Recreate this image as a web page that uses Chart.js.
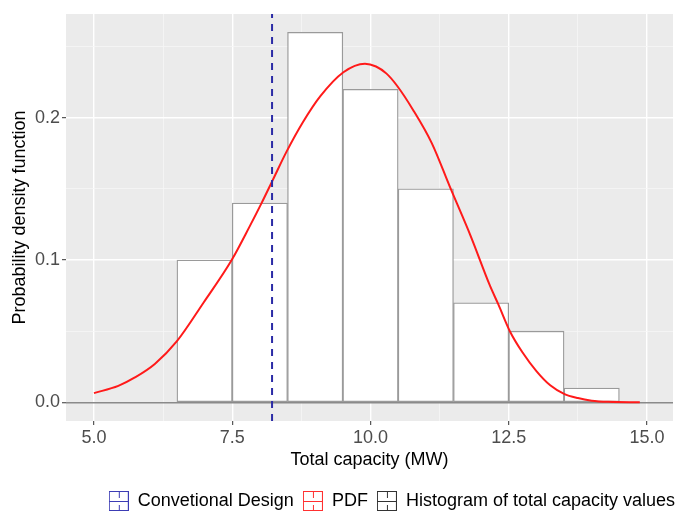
<!DOCTYPE html>
<html>
<head>
<meta charset="utf-8">
<title>Total capacity PDF</title>
<script src="https://cdn.jsdelivr.net/npm/chart.js@4.4.0/dist/chart.umd.min.js"></script>
<style>
    html, body { margin: 0; padding: 0; background: #fff; overflow: hidden; }
    #wrap { width: 680px; height: 520px; }
</style>
</head>
<body>
<div id="wrap"><canvas id="capacityChart" width="680" height="520"></canvas></div>
<script>
// histogram (bin width 1 MW)
const binCenters = [7, 8, 9, 10, 11, 12, 13, 14];
const binDensity = [0.10, 0.14, 0.26, 0.22, 0.15, 0.07, 0.05, 0.01];

// fitted density curve
const pdfX = [5.0, 5.44, 5.74, 6.1, 6.5, 6.98, 7.49, 7.82, 8.03, 8.23, 8.48, 8.78, 9.09, 9.51, 9.9, 10.1,
    10.29, 10.47, 10.77, 11.11, 11.44, 11.81, 12.16, 12.31, 12.52, 12.75, 13.0, 13.25, 13.5, 13.75, 14.0, 14.3, 14.87];
const pdfY = [0.0065, 0.0116, 0.0175, 0.027, 0.043, 0.070, 0.100, 0.124, 0.140, 0.156, 0.176, 0.197, 0.215, 0.232, 0.238, 0.236,
    0.231, 0.223, 0.2055, 0.182, 0.151, 0.117, 0.082, 0.069, 0.050, 0.035, 0.022, 0.012, 0.006, 0.003, 0.0012, 0.0004, 0.0001];

// conventional design capacity (dashed line)
const designCapacity = 8.22;

const xMajorTicks = [5, 7.5, 10, 12.5, 15];
const xTickLabels = ["5.0", "7.5", "10.0", "12.5", "15.0"];
const xMinorTicks = [6.25, 8.75, 11.25, 13.75];
const yMajorTicks = [0, 0.1, 0.2];
const yTickLabels = ["0.0", "0.1", "0.2"];
const yMinorTicks = [0.05, 0.15, 0.25];

const legendLabels = ["Convetional Design", "PDF", "Histogram of total capacity values"];

const X_MIN = 4.494, X_MAX = 15.47;
const Y_MIN = -0.0131, Y_MAX = 0.2729;

const BLUE = "#2b2ba6";
const RED = "#ff1a1a";
const BAR_EDGE = "#9a9a9a";

Chart.defaults.font.family = '"Liberation Sans", Arial, sans-serif';
Chart.defaults.font.size = 18;

function makeKey(color) {
    const c = document.createElement("canvas");
    c.width = 20;
    c.height = 20;
    const g = c.getContext("2d");
    g.fillStyle = "#fff";
    g.fillRect(0, 0, 20, 20);
    g.strokeStyle = color;
    g.lineWidth = 1;
    g.strokeRect(0.5, 0.5, 19, 19);
    g.beginPath();
    g.moveTo(1, 10.5); g.lineTo(19, 10.5);
    g.moveTo(10.5, 1); g.lineTo(10.5, 7);
    g.moveTo(10.5, 14); g.lineTo(10.5, 19);
    g.stroke();
    return c;
}
const legendKeys = [makeKey("#3c3cb4"), makeKey("#ff3030"), makeKey("#333333")];

const panelBg = {
    id: "panelBg",
    afterLayout(chart) {
        // legend row sits a little right of the canvas padding in the original
        if (chart.legend) {
            chart.legend.left += 11;
            chart.legend.right += 11;
        }
    },
    beforeDraw(chart) {
        const { ctx, chartArea: a } = chart;
        ctx.save();
        ctx.fillStyle = "#ebebeb";
        ctx.fillRect(a.left, a.top, a.right - a.left, a.bottom - a.top);
        ctx.restore();
    },
};

function tickVal(c) {
    return c && c.tick ? c.tick.value : NaN;
}
function isMajor(list, v) {
    return list.some((m) => Math.abs(m - v) < 1e-9);
}

const ctx = document.getElementById("capacityChart").getContext("2d");

new Chart(ctx, {
    type: "bar",
    data: {
        datasets: [
            {
                type: "line",
                label: legendLabels[0],
                data: [{ x: designCapacity, y: Y_MIN }, { x: designCapacity, y: Y_MAX }],
                borderColor: BLUE,
                borderWidth: 2,
                borderDash: [7, 6],
                pointRadius: 0,
                order: 0,
            },
            {
                type: "line",
                label: legendLabels[1],
                data: pdfX.map((x, i) => ({ x: x, y: pdfY[i] })),
                borderColor: RED,
                borderWidth: 2,
                cubicInterpolationMode: "monotone",
                pointRadius: 0,
                fill: false,
                order: 1,
            },
            {
                type: "bar",
                label: legendLabels[2],
                data: binCenters.map((x, i) => ({ x: x, y: binDensity[i] })),
                backgroundColor: "#ffffff",
                borderColor: BAR_EDGE,
                borderWidth: 1.3,
                borderSkipped: false,
                barPercentage: 1,
                categoryPercentage: 1,
                order: 2,
            },
        ],
    },
    options: {
        responsive: false,
        animation: false,
        events: [],
        layout: { padding: { top: 14, right: 7, left: 0, bottom: 0 } },
        scales: {
            x: {
                type: "linear",
                min: X_MIN,
                max: X_MAX,
                offset: false,
                afterBuildTicks: (scale) => {
                    scale.ticks = xMajorTicks.concat(xMinorTicks).sort((a, b) => a - b).map((v) => ({ value: v }));
                },
                afterFit: (scale) => { scale.height = 62; },
                border: { display: false },
                grid: {
                    offset: false,
                    color: (c) => (isMajor(xMajorTicks, tickVal(c)) ? "#ffffff" : "#f6f6f6"),
                    lineWidth: (c) => (isMajor(xMajorTicks, tickVal(c)) ? 1.4 : 0.8),
                    tickColor: (c) => (isMajor(xMajorTicks, tickVal(c)) ? "#333333" : "rgba(0,0,0,0)"),
                    tickWidth: 1,
                    tickLength: 4,
                },
                ticks: {
                    autoSkip: false,
                    maxRotation: 0,
                    padding: 2,
                    color: "#4d4d4d",
                    callback: (v) => {
                        const i = xMajorTicks.indexOf(v);
                        return i >= 0 ? xTickLabels[i] : "";
                    },
                },
                title: {
                    display: true,
                    text: "Total capacity (MW)",
                    color: "#000",
                    padding: { top: 0, bottom: 12 },
                },
            },
            y: {
                type: "linear",
                min: Y_MIN,
                max: Y_MAX,
                afterBuildTicks: (scale) => {
                    scale.ticks = yMajorTicks.concat(yMinorTicks).sort((a, b) => a - b).map((v) => ({ value: v }));
                },
                afterFit: (scale) => { scale.width = 66; },
                border: { display: false },
                grid: {
                    color: (c) => {
                        const v = tickVal(c);
                        if (v === 0) return "#8a8a8a";
                        return isMajor(yMajorTicks, v) ? "#ffffff" : "#f6f6f6";
                    },
                    lineWidth: (c) => {
                        const v = tickVal(c);
                        if (v === 0) return 1.5;
                        return isMajor(yMajorTicks, v) ? 1.4 : 0.8;
                    },
                    tickColor: (c) => (isMajor(yMajorTicks, tickVal(c)) ? "#333333" : "rgba(0,0,0,0)"),
                    tickWidth: 1,
                    tickLength: 4,
                },
                ticks: {
                    autoSkip: false,
                    padding: 2,
                    color: "#4d4d4d",
                    callback: (v) => {
                        const i = yMajorTicks.indexOf(v);
                        return i >= 0 ? yTickLabels[i] : "";
                    },
                },
                title: {
                    display: true,
                    text: "Probability density function",
                    color: "#000",
                    padding: { top: 9, bottom: 0 },
                },
            },
        },
        plugins: {
            tooltip: { enabled: false },
            legend: {
                position: "bottom",
                align: "end",
                labels: {
                    usePointStyle: true,
                    pointStyleWidth: 20,
                    padding: 9,
                    color: "#000",
                    generateLabels: () =>
                        legendLabels.map((t, i) => ({
                            text: t,
                            pointStyle: legendKeys[i],
                            fillStyle: "#fff",
                            strokeStyle: "#fff",
                            lineWidth: 0,
                            hidden: false,
                            datasetIndex: i,
                            fontColor: "#000",
                        })),
                },
            },
        },
    },
    plugins: [panelBg],
});
</script>
</body>
</html>
